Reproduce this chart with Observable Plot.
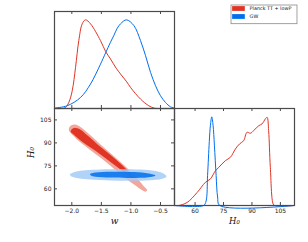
<!DOCTYPE html>
<html><head><meta charset="utf-8">
<script src="https://cdn.jsdelivr.net/npm/d3@7"></script>
<script src="https://cdn.jsdelivr.net/npm/@observablehq/plot@0.6"></script>
<style>
html,body{margin:0;padding:0;background:#fff;}
#wrap{position:relative;width:308px;height:242px;overflow:hidden;background:#fff;}
#wrap svg{position:absolute;overflow:visible;max-width:none;}
</style></head><body><div id="wrap"></div>
<script>
// ---- data ----
const seriesNames = ["Planck TT + lowP", "GW"];
const darkColors = ["#E03424", "#006FED"];
const lightColors = ["#F3A69C", "#A3CBF7"];
const wTicks = [-2.0, -1.5, -1.0, -0.5];
const h0Ticks = [60, 75, 90, 105];
const wDomain = [-2.293, -0.263];
const h0Domain = [49.15, 112.45];
const densDomain = [0, 1.094];

// marginal of w  [w, normalized density]
const wPlanck = [[-2.293,0],[-2.17,0],[-2.107,0.011],[-2.05,0.07],[-1.993,0.20],[-1.937,0.464],[-1.882,0.766],[-1.824,0.955],[-1.768,1.0],[-1.684,0.955],[-1.515,0.766],[-1.430,0.645],[-1.346,0.559],[-1.25,0.455],[-1.176,0.389],[-1.07,0.30],[-1.007,0.238],[-0.838,0.106],[-0.698,0.031],[-0.613,0.005],[-0.55,0],[-0.263,0]];
const wGW = [[-2.293,0.005],[-2.078,0.031],[-1.853,0.124],[-1.684,0.276],[-1.515,0.50],[-1.430,0.625],[-1.346,0.747],[-1.290,0.822],[-1.232,0.905],[-1.176,0.955],[-1.075,1.0],[-0.951,0.936],[-0.838,0.766],[-0.753,0.596],[-0.668,0.407],[-0.584,0.257],[-0.5,0.144],[-0.415,0.068],[-0.331,0.019],[-0.263,0.005]];

// marginal of H0  [H0, normalized density]
const h0Planck = [[49.15,0],[51.3,0],[55.8,0.034],[61.1,0.147],[65.4,0.26],[68.1,0.30],[70.7,0.39],[72.5,0.43],[76.0,0.506],[78.6,0.543],[81.3,0.638],[83.5,0.695],[85.6,0.73],[87.4,0.826],[89.2,0.815],[90.9,0.845],[93.6,0.90],[95.3,0.92],[97.1,0.977],[98.0,0.995],[98.8,0.845],[99.7,0.43],[101.2,0.016],[102,0],[112.45,0]];
const h0GW = [[49.15,0],[64.5,0],[65.8,0.05],[66.6,0.34],[67.5,0.72],[68.1,0.905],[68.8,1.0],[69.5,0.905],[70.2,0.68],[71.1,0.34],[71.9,0.095],[73.0,0],[112.45,0]];

// 2D contours  [w, H0] outlines
const planckOuter = [[-2.047,99.65],[-2.014,101.28],[-1.954,101.93],[-1.887,101.15],[-1.768,97.70],[-1.633,93.13],[-1.515,88.89],[-1.379,84.33],[-1.244,79.76],[-1.109,75.20],[-0.974,69.98],[-0.856,65.09],[-0.771,61.17],[-0.728,59.22],[-0.745,58.24],[-0.787,58.57],[-0.889,61.17],[-1.007,64.43],[-1.142,68.48],[-1.278,72.78],[-1.413,77.15],[-1.548,81.26],[-1.684,85.17],[-1.819,89.22],[-1.921,92.61],[-1.997,95.41],[-2.039,97.37],[-2.051,98.48]];
const planckInner = [[-2.017,98.0],[-1.985,99.45],[-1.937,99.8],[-1.870,99.0],[-1.734,94.76],[-1.565,89.02],[-1.396,83.67],[-1.226,78.13],[-1.091,73.24],[-0.999,69.65],[-0.948,67.37],[-0.982,67.04],[-1.075,69.65],[-1.210,73.57],[-1.346,77.48],[-1.515,82.48],[-1.684,86.93],[-1.819,90.52],[-1.912,93.46],[-1.985,95.9],[-2.015,97.0]];
const gwOuter = [[-2.034,69.33],[-1.937,71.15],[-1.768,72.20],[-1.515,72.72],[-1.176,72.85],[-0.838,72.59],[-0.584,71.61],[-0.449,69.98],[-0.398,68.15],[-0.483,66.52],[-0.669,65.67],[-1.007,65.28],[-1.346,65.41],[-1.684,66.07],[-1.887,66.98],[-2.005,68.15]];
const gwInner = [[-1.692,69.59],[-1.599,70.63],[-1.346,71.15],[-1.007,71.02],[-0.753,70.43],[-0.584,68.80],[-0.702,67.63],[-1.007,67.17],[-1.346,67.37],[-1.599,67.89],[-1.675,68.67]];

// ---- drawing ----
const wrap = document.getElementById("wrap");
const spine = "#4a4a4a";
const font = "DejaVu Sans";
const X = d => d[0], Y = d => d[1];

function place(svg, left, top) {
  svg.style.left = left + "px";
  svg.style.top = top + "px";
  wrap.appendChild(svg);
}
function ticksX(vals, innerH, sides) {
  const out = [];
  if (sides.includes("top")) out.push(Plot.ruleX(vals, {x: d => d, insetBottom: innerH - 3, stroke: spine, strokeWidth: 1}));
  if (sides.includes("bottom")) out.push(Plot.ruleX(vals, {x: d => d, insetTop: innerH - 3, stroke: spine, strokeWidth: 1}));
  return out;
}
function ticksY(vals, innerW, sides) {
  const out = [];
  if (sides.includes("left")) out.push(Plot.ruleY(vals, {y: d => d, insetRight: innerW - 3, stroke: spine, strokeWidth: 1}));
  if (sides.includes("right")) out.push(Plot.ruleY(vals, {y: d => d, insetLeft: innerW - 3, stroke: spine, strokeWidth: 1}));
  return out;
}
const labelStyle = {fontFamily: "DejaVu Serif", fontStyle: "italic", fontSize: 8.5, fill: "#111"};

// top-left: w marginal
place(Plot.plot({
  width: 176, height: 110, marginLeft: 54, marginRight: 2, marginTop: 11, marginBottom: 2,
  style: {background: "transparent", fontFamily: font},
  x: {domain: wDomain, axis: null},
  y: {domain: densDomain, axis: null},
  marks: [
    Plot.line(wPlanck, {x: X, y: Y, stroke: darkColors[0], strokeWidth: 1, curve: "catmull-rom"}),
    Plot.line(wGW, {x: X, y: Y, stroke: darkColors[1], strokeWidth: 1, curve: "catmull-rom"}),
    ...ticksX(wTicks, 97, ["top", "bottom"]),
    Plot.frame({stroke: spine, strokeWidth: 1.2})
  ]
}), 0, 0);

// bottom-left: w vs H0 contours
place(Plot.plot({
  width: 176, height: 142, marginLeft: 54, marginRight: 2, marginTop: 8, marginBottom: 37,
  style: {background: "transparent", fontFamily: font},
  x: {domain: wDomain, axis: null},
  y: {domain: h0Domain, axis: null},
  marks: [
    Plot.line(planckOuter, {x: X, y: Y, fill: lightColors[0], stroke: "none", curve: "catmull-rom-closed"}),
    Plot.line(planckInner, {x: X, y: Y, fill: darkColors[0], stroke: "none", curve: "catmull-rom-closed"}),
    Plot.line(gwOuter, {x: X, y: Y, fill: lightColors[1], stroke: "none", fillOpacity: 0.85, curve: "catmull-rom-closed"}),
    Plot.line(gwInner, {x: X, y: Y, fill: darkColors[1], stroke: "none", fillOpacity: 0.85, curve: "catmull-rom-closed"}),
    ...ticksX(wTicks, 97, ["top", "bottom"]),
    ...ticksY(h0Ticks, 120, ["left", "right"]),
    Plot.axisX({ticks: wTicks, tickFormat: d3.format(".1f"), tickSize: 0, tickPadding: 3.5, fontSize: 6, fill: "#222", label: null}),
    Plot.axisY({ticks: h0Ticks, tickSize: 0, tickPadding: 3, fontSize: 6, fill: "#222", label: null}),
    Plot.text(["w"], {text: d => d, frameAnchor: "bottom", dy: 18.3, ...labelStyle, fontSize: 9}),
    Plot.text(["H\u2080"], {text: d => d, frameAnchor: "left", dx: -23.5, dy: 1, rotate: -90, ...labelStyle}),
    Plot.frame({stroke: spine, strokeWidth: 1.2})
  ]
}), 0, 100);

// bottom-right: H0 marginal
place(Plot.plot({
  width: 138, height: 142, marginLeft: 4, marginRight: 14, marginTop: 8, marginBottom: 37,
  style: {background: "transparent", fontFamily: font},
  x: {domain: h0Domain, axis: null},
  y: {domain: densDomain, axis: null},
  marks: [
    Plot.line(h0Planck, {x: X, y: Y, stroke: darkColors[0], strokeWidth: 1, curve: "catmull-rom"}),
    Plot.line(h0GW, {x: X, y: Y, stroke: darkColors[1], strokeWidth: 1, curve: "catmull-rom"}),
    ...ticksX(h0Ticks, 97, ["top", "bottom"]),
    Plot.axisX({ticks: h0Ticks, tickSize: 0, tickPadding: 3.5, fontSize: 6, fill: "#222", label: null}),
    Plot.text(["H\u2080"], {text: d => d, frameAnchor: "bottom", dy: 18, ...labelStyle}),
    Plot.frame({stroke: spine, strokeWidth: 1.2})
  ]
}), 170, 100);

// legend
place(Plot.plot({
  width: 67, height: 19.7, margin: 0.5,
  style: {background: "#fff", fontFamily: font},
  x: {axis: null},
  y: {type: "point", domain: seriesNames, range: [4.1, 12.3], padding: 0, axis: null},
  marks: [
    Plot.ruleY(seriesNames, {y: d => d, stroke: (d, i) => darkColors[i], strokeWidth: 4.8, insetLeft: 1.6, insetRight: 51.7}),
    Plot.text(seriesNames, {y: d => d, text: d => d, frameAnchor: "left", dx: 18.6, textAnchor: "start", fontSize: 4.9, fill: "#111"}),
    Plot.frame({stroke: "#8a8a8a", strokeWidth: 0.8})
  ]
}), 230.2, 3.5);
</script></body></html>
